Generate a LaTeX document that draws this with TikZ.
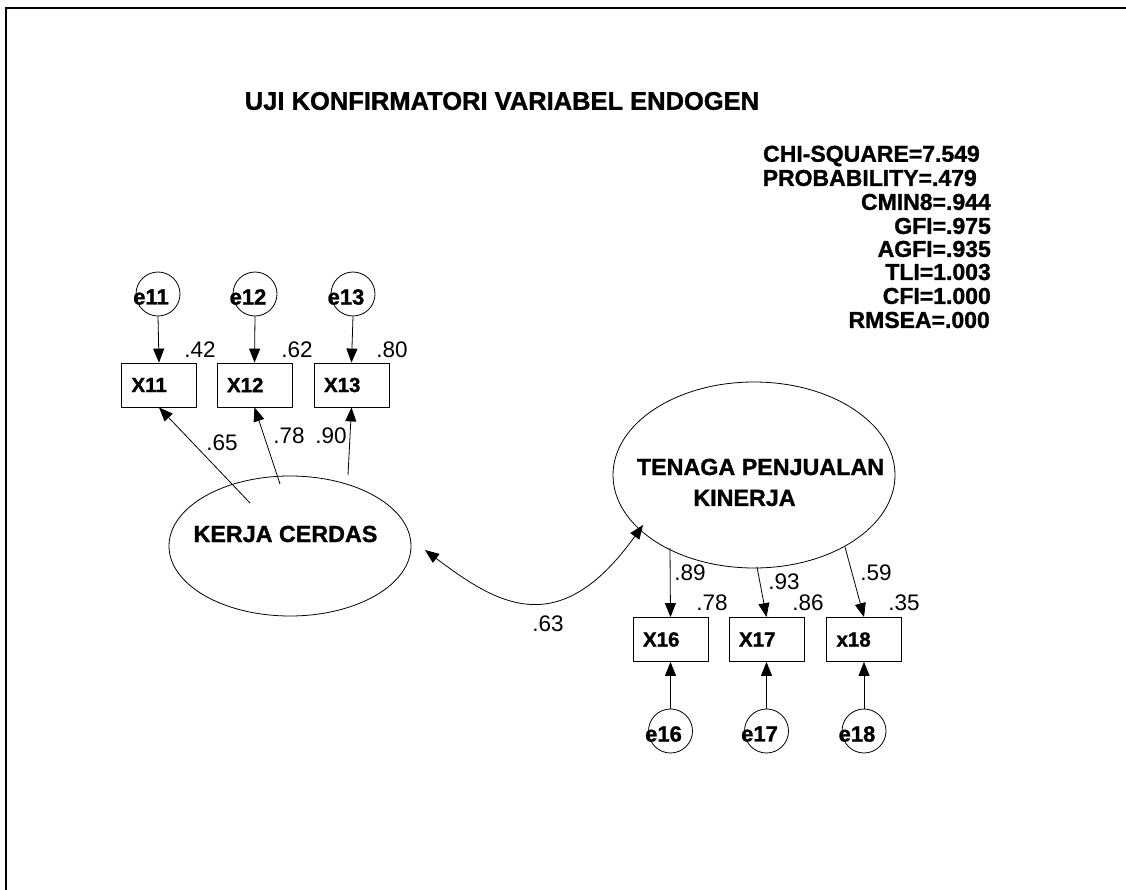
\documentclass[tikz,border=0pt]{standalone}
\usepackage{fontspec}
\setmainfont{Liberation Sans}[BoldFeatures={FakeBold=1.2}]
\usetikzlibrary{arrows.meta,shapes.geometric}

\tikzset{
  obs/.style={draw, line width=0.8pt, minimum width=75pt, minimum height=44pt,
    text width=55pt, align=left, inner xsep=10pt, inner ysep=0pt,
    font=\fontsize{20.5}{24}\selectfont\bfseries},
  err/.style={draw, circle, line width=0.8pt, minimum size=44pt, inner sep=0pt},
  errlbl/.style={font=\fontsize{22}{24}\selectfont\bfseries, inner sep=0pt,
    xshift=-7pt, yshift=-3pt},
  lat/.style={draw, ellipse, line width=0.8pt, inner sep=0pt},
  latlbl/.style={font=\fontsize{23.3}{26}\selectfont\bfseries, inner sep=0pt},
  arr/.style={-{Triangle[length=14pt,width=11pt]}, line width=0.8pt},
  dblarr/.style={{Triangle[length=14pt,width=11pt]}-{Triangle[length=14pt,width=11pt]}, line width=0.8pt},
  coef/.style={font=\fontsize{22.5}{24}\selectfont, inner sep=0pt},
  fitline/.style={font=\fontsize{23}{24}\selectfont\bfseries, anchor=east, inner sep=0pt},
}

\begin{document}
\begin{tikzpicture}[x=1pt,y=-1pt]
  \useasboundingbox (0,0) rectangle (1126,890);
  % outer frame (left and top edges)
  \draw[line width=2pt] (6,890) -- (6,8) -- (1126,8);

  % title
  \node[font=\fontsize{25.5}{30}\selectfont\bfseries, inner sep=0pt] (title) at (502,101)
    {UJI KONFIRMATORI VARIABEL ENDOGEN};

  % fit statistics
  \node[fitline] (chi)  at (980,156) {CHI-SQUARE=7.549};
  \node[fitline] (prob) at (977,178) {PROBABILITY=.479};
  \node[fitline] (cmin) at (991,202) {CMIN8=.944};
  \node[fitline] (gfi)  at (991,226) {GFI=.975};
  \node[fitline] (agfi) at (991,249) {AGFI=.935};
  \node[fitline] (tli)  at (991,272) {TLI=1.003};
  \node[fitline] (cfi)  at (991,296) {CFI=1.000};
  \node[fitline] (rmsea) at (990,320) {RMSEA=.000};

  % latent variables
  \node[lat, minimum width=242pt, minimum height=140pt,
        label={[latlbl, xshift=-4.5pt, yshift=12pt]center:KERJA CERDAS}] (kc) at (290,546) {};
  \node[lat, minimum width=282pt, minimum height=186pt,
        label={[latlbl, xshift=6.5pt, yshift=8pt]center:TENAGA PENJUALAN},
        label={[latlbl, xshift=-9.5pt, yshift=-23pt]center:KINERJA}] (tpk) at (754,475) {};

  % observed indicators
  \node[obs] (x11) at (159,385) {X11};
  \node[obs] (x12) at (254.5,385) {X12};
  \node[obs] (x13) at (351.5,385) {X13};
  \node[obs] (x16) at (670.5,639.5) {X16};
  \node[obs] (x17) at (766.5,639.5) {X17};
  \node[obs] (x18) at (864,639.5) {x18};

  % error terms
  \node[err, label={[errlbl]center:e11}] (e11) at (158,294) {};
  \node[err, label={[errlbl]center:e12}] (e12) at (255,294) {};
  \node[err, label={[errlbl]center:e13}] (e13) at (353,294) {};
  \node[err, label={[errlbl]center:e16}] (e16) at (670.5,731) {};
  \node[err, label={[errlbl]center:e17}] (e17) at (766.5,731) {};
  \node[err, label={[errlbl]center:e18}] (e18) at (864,731) {};

  % error paths
  \draw[arr] (e11.south) -- (x11.north);
  \draw[arr] (e12.south) -- (x12.north);
  \draw[arr] (e13.south) -- (x13.north);
  \draw[arr] (e16.north) -- (x16.south);
  \draw[arr] (e17.north) -- (x17.south);
  \draw[arr] (e18.north) -- (x18.south);

  % loading start points on the latent variables
  \coordinate (k1) at (250,503);
  \coordinate (k2) at (280,484);
  \coordinate (k3) at (348,475);
  \coordinate (t1) at (670,548);
  \coordinate (t2) at (757,567);
  \coordinate (t3) at (845,547);

  \draw[arr] (k1) -- (x11.south);
  \draw[arr] (k2) -- (x12.south);
  \draw[arr] (k3) -- (x13.south);
  \draw[arr] (t1) -- (x16.north);
  \draw[arr] (t2) -- (x17.north);
  \draw[arr] (t3) -- (x18.north);

  % covariance between the latent variables
  \coordinate (c1) at (425,550);
  \coordinate (c2) at (643,525);
  \draw[dblarr] (c1) .. controls (498,605) and (559,642) .. (c2);

  % coefficients
  \node[coef] (r11) at (200,350) {.42};
  \node[coef] (r12) at (297,350) {.62};
  \node[coef] (r13) at (392,350) {.80};
  \node[coef] (l11) at (222,443) {.65};
  \node[coef] (l12) at (289,436) {.78};
  \node[coef] (l13) at (331,436) {.90};
  \node[coef] (l16) at (690,573) {.89};
  \node[coef] (r16) at (712,603) {.78};
  \node[coef] (l17) at (784,582) {.93};
  \node[coef] (r17) at (808,603) {.86};
  \node[coef] (l18) at (876,573) {.59};
  \node[coef] (r18) at (904,603) {.35};
  \node[coef] (cov) at (548,624) {.63};
\end{tikzpicture}
\end{document}
